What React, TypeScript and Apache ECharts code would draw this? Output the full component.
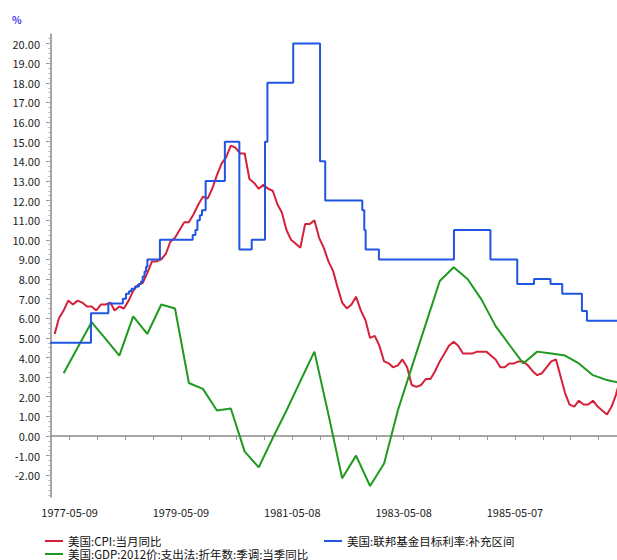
import { useEffect, useRef } from 'react';
import * as echarts from 'echarts';

// ---------- data ----------
const xLabelDates = ['1977-05-09', '1979-05-09', '1981-05-08', '1983-05-08', '1985-05-07'];
const yLabelValues = [-2, -1, 0, 1, 2, 3, 4, 5, 6, 7, 8, 9, 10, 11, 12, 13, 14, 15, 16, 17, 18, 19, 20];

const axisMinDate = '1977-01-07';
const axisMaxDate = '1987-03-07';

const cpiName = '美国:CPI:当月同比';
const gdpName = '美国:GDP:2012价:支出法:折年数:季调:当季同比';
const fedName = '美国:联邦基金目标利率:补充区间';

// monthly, from 1977-01 (month-end dates)
const cpiStartMonth = '1977-01';
const cpiValues = [
  5.2, 6.0, 6.4, 6.9, 6.7, 6.9, 6.8, 6.6, 6.6, 6.4, 6.7, 6.7,
  6.8, 6.4, 6.6, 6.5, 6.9, 7.4, 7.7, 7.8, 8.3, 8.9, 8.9, 9.0,
  9.3, 9.9, 10.1, 10.5, 10.9, 10.9, 11.3, 11.8, 12.2, 12.1, 12.6, 13.3,
  13.9, 14.2, 14.8, 14.7, 14.4, 14.4, 13.1, 12.9, 12.6, 12.8, 12.6, 12.5,
  11.8, 11.4, 10.5, 10.0, 9.8, 9.6, 10.8, 10.8, 11.0, 10.1, 9.6, 8.9,
  8.4, 7.6, 6.8, 6.5, 6.7, 7.1, 6.4, 5.9, 5.0, 5.1, 4.6, 3.8,
  3.7, 3.5, 3.6, 3.9, 3.5, 2.6, 2.5, 2.6, 2.9, 2.9, 3.3, 3.8,
  4.2, 4.6, 4.8, 4.6, 4.2, 4.2, 4.2, 4.3, 4.3, 4.3, 4.1, 3.9,
  3.5, 3.5, 3.7, 3.7, 3.8, 3.8, 3.6, 3.3, 3.1, 3.2, 3.5, 3.8,
  3.9, 3.1, 2.2, 1.6, 1.5, 1.8, 1.6, 1.6, 1.8, 1.5, 1.3, 1.1,
  1.5, 2.1, 3.0,
];

// quarterly, from 1977-Q1 (quarter-end dates)
const gdpStartYear = 1977;
const gdpValues = [
  3.2, 4.5, 5.8, 4.95,
  4.1, 6.1, 5.2, 6.7,
  6.5, 2.7, 2.4, 1.3,
  1.4, -0.8, -1.6, -0.1,
  1.3, 2.8, 4.3, 1.1,
  -2.15, -1.0, -2.55, -1.4,
  1.3, 3.5, 5.7, 7.9,
  8.6, 8.0, 6.95, 5.6,
  4.65, 3.7, 4.3, 4.2,
  4.1, 3.7, 3.1, 2.85,
  2.7,
];

// step series: date where each value starts
const fedDates = [
  '1977-01-01', '1977-09-26', '1978-01-18', '1978-04-23', '1978-05-14', '1978-06-03',
  '1978-06-19', '1978-07-12', '1978-08-07', '1978-08-20', '1978-08-31', '1978-09-12',
  '1978-09-22', '1978-10-01', '1978-12-22', '1979-07-25', '1979-08-12', '1979-08-25',
  '1979-09-10', '1979-09-24', '1979-10-18', '1980-02-21', '1980-05-26', '1980-08-15',
  '1980-11-10', '1980-11-26', '1981-05-14', '1981-11-06', '1981-12-10', '1982-08-10',
  '1982-08-23', '1982-09-01', '1982-11-27', '1984-04-02', '1984-11-27', '1985-05-22',
  '1985-09-09', '1985-12-26', '1986-03-13', '1986-07-20', '1986-08-22', '1987-06-30',
];
const fedValues = [
  4.75, 6.25, 6.75, 7.0, 7.25, 7.375,
  7.5, 7.625, 7.75, 7.875, 8.125, 8.375,
  8.625, 9.0, 10.0, 10.25, 10.5, 11.0,
  11.25, 11.5, 13.0, 15.0, 9.5, 10.0,
  15.0, 18.0, 20.0, 14.0, 12.0, 11.5,
  10.5, 9.5, 9.0, 10.5, 9.0, 7.75,
  8.0, 7.75, 7.25, 6.375, 5.875, 5.875,
];

// ---------- helpers ----------
const ts = (s: string) => {
  const [y, m, d] = s.split('-').map(Number);
  return Date.UTC(y, m - 1, d);
};
const pad = (n: number) => (n < 10 ? '0' + n : '' + n);
const fmtDate = (v: number) => {
  const d = new Date(v);
  return `${d.getUTCFullYear()}-${pad(d.getUTCMonth() + 1)}-${pad(d.getUTCDate())}`;
};

const COLORS = { cpi: '#d5203a', gdp: '#1f9a1f', fed: '#1f55e0' };
const FONT = '"Noto Sans CJK SC", "Noto Sans", sans-serif';

const legendBase = {
  padding: 0,
  itemGap: 0,
  itemWidth: 18,
  itemHeight: 2,
  icon: 'rect',
  textStyle: { fontSize: 11.5, lineHeight: 13, fontFamily: FONT, color: '#111' },
};

export default function App() {
  const ref = useRef<HTMLDivElement>(null);

  useEffect(() => {
    if (!ref.current) return;
    const chart = echarts.init(ref.current, undefined, { renderer: 'svg' });

    const [cy, cm] = cpiStartMonth.split('-').map(Number);
    const cpiData = cpiValues.map((v, i) => [Date.UTC(cy, cm - 1 + i + 1, 0), v]);
    const gdpData = gdpValues.map((v, i) => [Date.UTC(gdpStartYear, (i + 1) * 3, 0), v]);
    const fedData = fedDates.map((d, i) => [ts(d), fedValues[i]]);

    const xMin = ts(axisMinDate);
    const xMax = ts(axisMaxDate);
    const labelTs = xLabelDates.map(ts);
    const tickTs: number[] = [];
    for (let i = 0; i < labelTs.length; i++) {
      const next = i + 1 < labelTs.length ? labelTs[i + 1] : labelTs[i] + (labelTs[i] - labelTs[i - 1]);
      const step = (next - labelTs[i]) / 4;
      for (let k = 0; k < 4; k++) tickTs.push(labelTs[i] + k * step);
    }
    const minorTicks: number[] = [];
    for (let v = -3; v <= 20.3; v += 0.25) minorTicks.push(Math.round(v * 100) / 100);

    const yMin = -3.11;
    const yMax = 20.49;
    const axisLineStyle = { color: '#8a8a8a', width: 1.5 };

    chart.setOption({
      animation: false,
      backgroundColor: '#ffffff',
      grid: { left: 51, right: 0, top: 34, bottom: 63, containLabel: false },
      xAxis: {
        type: 'value',
        min: xMin,
        max: xMax,
        splitLine: { show: false },
        axisLine: { show: true, lineStyle: axisLineStyle },
        axisTick: { show: true, length: 4, customValues: tickTs, lineStyle: { color: '#9a9a9a', width: 1 } },
        axisLabel: {
          customValues: labelTs,
          formatter: (v: number) => fmtDate(v),
          margin: 9,
          fontSize: 11,
          fontFamily: FONT,
          color: '#222',
        },
      },
      yAxis: [
        {
          type: 'value',
          position: 'left',
          min: yMin,
          max: yMax,
          splitLine: { show: false },
          axisLine: { show: true, lineStyle: axisLineStyle },
          axisTick: { show: true, length: 5, customValues: yLabelValues, lineStyle: { color: '#9a9a9a', width: 1 } },
          axisLabel: {
            customValues: yLabelValues,
            formatter: (v: number) => v.toFixed(2),
            margin: 11,
            fontSize: 11,
            fontFamily: FONT,
            color: '#222',
          },
        },
        {
          type: 'value',
          position: 'left',
          offset: 0,
          min: yMin,
          max: yMax,
          splitLine: { show: false },
          axisLine: { show: false },
          axisTick: { show: true, length: 2.5, customValues: minorTicks, lineStyle: { color: '#a8a8a8', width: 1 } },
          axisLabel: { show: false },
        },
      ],
      legend: [
        { ...legendBase, left: 45, top: 534.5, data: [cpiName] },
        { ...legendBase, left: 45, top: 547.5, data: [gdpName] },
        { ...legendBase, left: 324, top: 534.5, data: [fedName] },
      ],
      graphic: [
        {
          type: 'text',
          left: 12,
          top: 14,
          style: { text: '%', fill: '#3636e6', fontSize: 10, fontWeight: 'bold', fontFamily: FONT },
        },
      ],
      series: [
        {
          name: cpiName,
          type: 'line',
          data: cpiData,
          showSymbol: false,
          symbol: 'none',
          color: COLORS.cpi,
          lineStyle: { width: 2, color: COLORS.cpi },
        },
        {
          name: gdpName,
          type: 'line',
          data: gdpData,
          showSymbol: false,
          symbol: 'none',
          color: COLORS.gdp,
          lineStyle: { width: 2, color: COLORS.gdp },
        },
        {
          name: fedName,
          type: 'line',
          step: 'end',
          data: fedData,
          showSymbol: false,
          symbol: 'none',
          color: COLORS.fed,
          lineStyle: { width: 2, color: COLORS.fed },
        },
      ],
    });

    return () => chart.dispose();
  }, []);

  return <div ref={ref} style={{ width: 617, height: 560, position: 'absolute', left: 0, top: 0 }} />;
}
